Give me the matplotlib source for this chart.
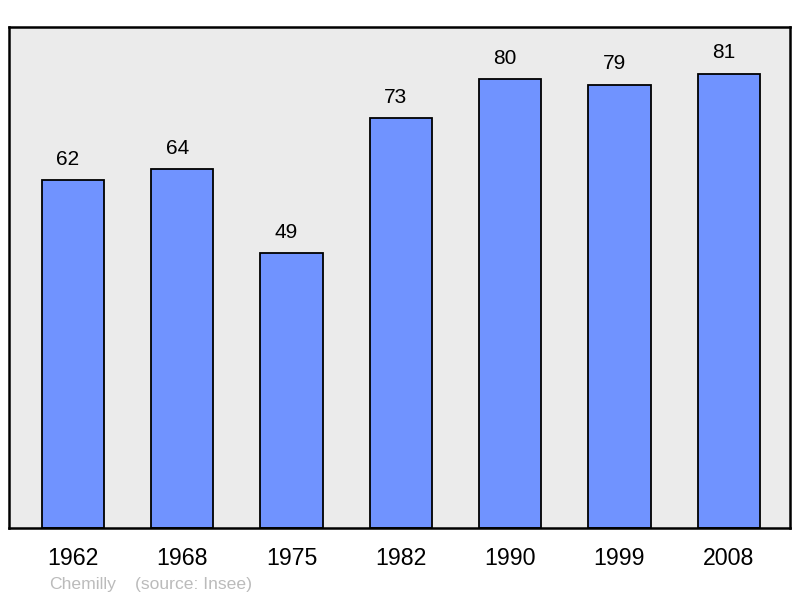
import matplotlib
matplotlib.use("Agg")
import matplotlib.pyplot as plt

years = ["1962", "1968", "1975", "1982", "1990", "1999", "2008"]
population = [62, 64, 49, 73, 80, 79, 81]

plt.rcParams['font.family'] = ['Liberation Sans', 'DejaVu Sans']

fig = plt.figure(figsize=(8, 5.98), dpi=100)
ax = fig.add_axes([9/800, 1-528/598, 781/800, 501/598])
ax.set_facecolor("#EBEBEB")
x = list(range(len(years)))
ax.bar(x, population, width=0.57, color="#7093FF", edgecolor="black", linewidth=1.3, zorder=2)
ax.set_xlim(-0.585, 6.56)
ax.set_ylim(0, 89.3)
for xi, v in zip(x, population):
    ax.annotate(str(v), (xi, v), xytext=(-3.6, 15), textcoords="offset points",
                ha="center", va="center", fontsize=15, color="black")
ax.set_xticks(x)
ax.set_xticklabels(years, fontsize=16.7)
ax.tick_params(axis="x", length=0, pad=13.5)
ax.set_yticks([])
for s in ax.spines.values():
    s.set_linewidth(1.8)
    s.set_color("black")
fig.text(49/800, 1-584/598, "Chemilly", fontsize=12.6, color="#BBBBBB", va="center", ha="left")
fig.text(135/800, 1-584/598, "(source: Insee)", fontsize=12.6, color="#BBBBBB", va="center", ha="left")
fig.savefig("out.png", dpi=100, facecolor="white")
